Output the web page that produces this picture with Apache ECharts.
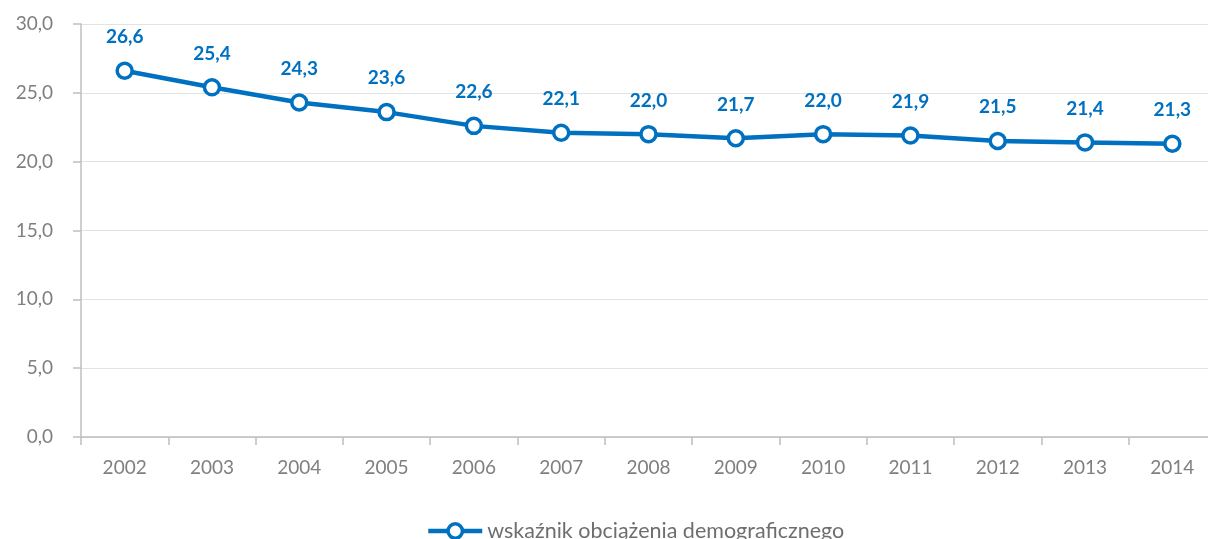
<!DOCTYPE html>
<html>
<head>
<meta charset="utf-8">
<script src="https://cdn.jsdelivr.net/npm/echarts@6/dist/echarts.min.js"></script>
<style>
  html,body{margin:0;padding:0;background:#fff;}
  #chart{width:1208px;height:539px;}
</style>
</head>
<body>
<div id="chart"></div>
<script>
	var years = ['2002','2003','2004','2005','2006','2007','2008','2009','2010','2011','2012','2013','2014'];
	var values = [26.6, 25.4, 24.3, 23.6, 22.6, 22.1, 22.0, 21.7, 22.0, 21.9, 21.5, 21.4, 21.3];
	var seriesName = 'wskaźnik obciążenia demograficznego';

	function przecinek(v){
		return v.toFixed(1).replace('.', ',');
	}

	var myChart = echarts.init(document.getElementById('chart'));

	var option = {
		animation: false,
		grid: {
			left: 81,
			top: 24,
			width: 1135,
			height: 413,
			outerBoundsMode: 'none'
		},
		legend: {
			bottom: -8,
			left: 421,
			itemWidth: 54,
			itemHeight: 18,
			itemGap: 5,
			data: [seriesName],
			lineStyle: { width: 4.5 },
			itemStyle: { borderWidth: 3.5 },
			textStyle: { color: '#6e6e6e', fontSize: 21.5, fontFamily: 'Lato' }
		},
		xAxis: {
			type: 'category',
			data: years,
			boundaryGap: true,
			axisLine: { lineStyle: { color: '#bfbfbf', width: 1.5 } },
			axisTick: { show: true, length: 8, lineStyle: { color: '#bfbfbf', width: 1.5 } },
			axisLabel: { color: '#7f7f7f', fontSize: 19, fontFamily: 'Lato', margin: 21 }
		},
		yAxis: {
			type: 'value',
			min: 0,
			max: 30,
			interval: 5,
			axisLine: { show: true, lineStyle: { color: '#bfbfbf', width: 1.5 } },
			axisTick: { show: true, length: 8, lineStyle: { color: '#bfbfbf', width: 1.5 } },
			splitLine: { lineStyle: { color: '#e3e3e3', width: 1 } },
			axisLabel: {
				color: '#7f7f7f', fontSize: 19, fontFamily: 'Lato', margin: 28,
				formatter: function(v){ return przecinek(v); }
			}
		},
		series: [{
			name: seriesName,
			type: 'line',
			data: values,
			symbol: 'circle',
			symbolSize: 15,
			lineStyle: { color: '#0070c0', width: 4.5 },
			itemStyle: { color: '#ffffff', borderColor: '#0070c0', borderWidth: 3.5 },
			label: {
				show: true,
				position: 'top',
				distance: 15,
				color: '#0070c0',
				fontSize: 19,
				fontWeight: 'bold',
				fontFamily: 'Lato',
				formatter: function(p){ return przecinek(p.value); }
			}
		}]
	};

	myChart.setOption(option);
</script>
</body>
</html>
